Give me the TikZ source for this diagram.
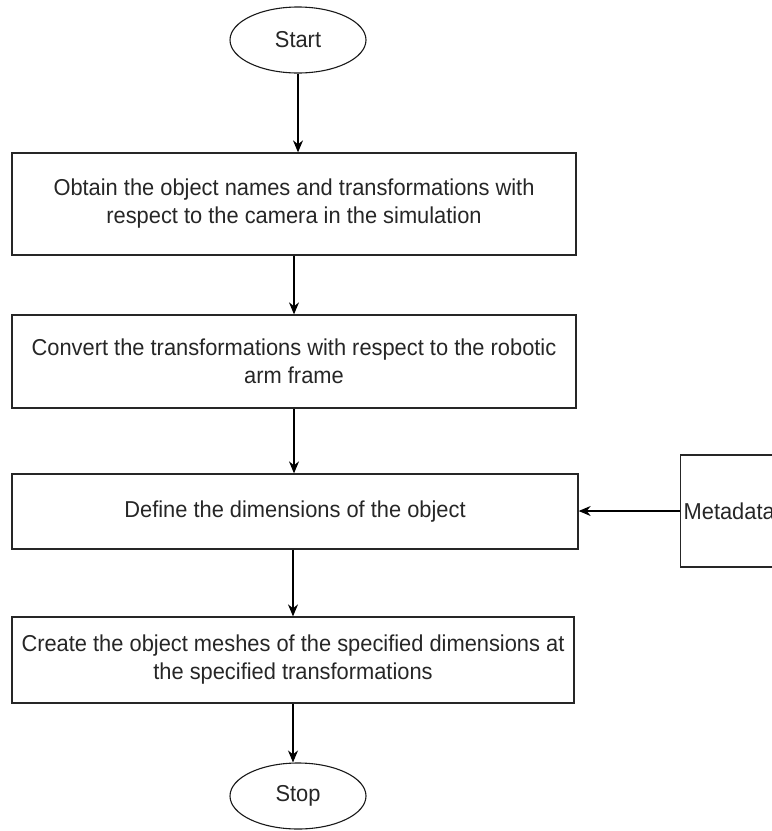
\documentclass[tikz,border=0pt]{standalone}
\usepackage{fontspec}
\setmainfont{Liberation Sans}[FakeStretch=0.95]
\usetikzlibrary{shapes.geometric,arrows.meta}

\begin{document}
\begin{tikzpicture}[x=1pt,y=-1pt,line cap=butt,line join=miter,>={Stealth[length=12pt,width=10pt]},
  every node/.style={inner sep=1pt,font=\fontsize{23}{28}\selectfont,text=black!85},
  stepbox/.style={draw=black!85,line width=1.3pt,rectangle,align=center},
  term/.style={draw=black!90,line width=1.1pt,ellipse,minimum width=136pt,minimum height=66pt}]
  \def\bw{564pt}
  \useasboundingbox (0,0) rectangle (772,831);
  \clip (0,0) rectangle (772,831);
  \node[term] (start) at (298,40) {Start};
  \node[stepbox,minimum width=\bw,minimum height=102pt] (obtain) at (294,204)
    {Obtain the object names and transformations with\\respect to the camera in the simulation};
  \node[stepbox,minimum width=\bw,minimum height=93pt] (convert) at (294,361.5)
    {Convert the transformations with respect to the robotic\\arm frame};
  \node[stepbox,minimum width=566pt,minimum height=75pt] (define) at (295,511.5)
    {Define the dimensions of the object};
  \node[stepbox,minimum width=562pt,minimum height=86pt] (create) at (293,660)
    {Create the object meshes of the specified dimensions at\\the specified transformations};
  \node[stepbox,anchor=west,inner xsep=3pt,minimum height=112pt] (meta) at (680,511) {Metadata};
  \node[term] (stop) at (298,796) {Stop};
  \draw[->,line width=1.2pt] (start) -- (start |- obtain.north);
  \draw[->,line width=1.2pt] (obtain.south) -- (convert.north);
  \draw[->,line width=1.2pt] (convert.south) -- (define.north -| convert.south);
  \draw[->,line width=1.2pt] (define.south -| create.north) -- (create.north);
  \draw[->,line width=1.2pt] (create.south) -- (stop.north -| create.south);
  \draw[->,line width=1.2pt] (meta) -- (meta -| define.east);
\end{tikzpicture}
\end{document}
